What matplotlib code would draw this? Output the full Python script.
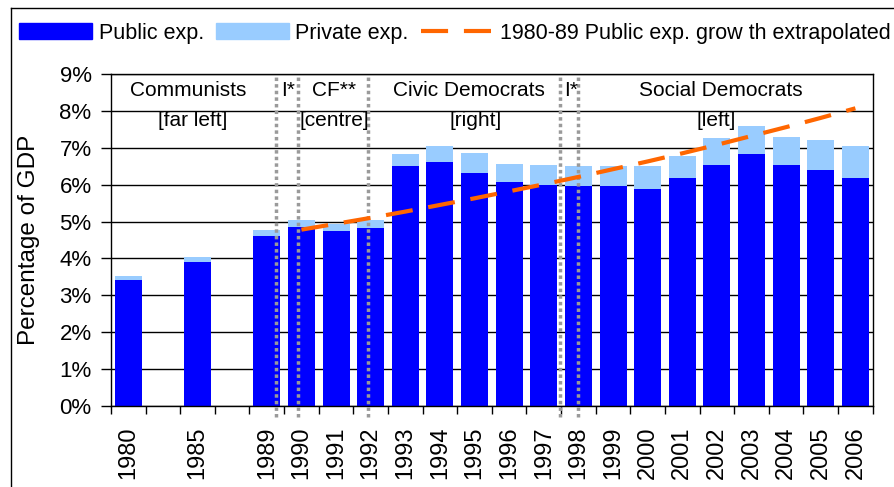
import numpy as np
import matplotlib
matplotlib.use('Agg')
import matplotlib.pyplot as plt
from matplotlib.lines import Line2D

plt.rcParams['font.family'] = ['Liberation Sans', 'DejaVu Sans']

# categories (empty slots keep the gaps between 1980, 1985 and 1989)
years = ['1980', '', '1985', '', '1989', '1990', '1991', '1992', '1993', '1994', '1995',
         '1996', '1997', '1998', '1999', '2000', '2001', '2002', '2003', '2004', '2005', '2006']
nan = np.nan
public = [3.42, nan, 3.91, nan, 4.61, 4.86, 4.75, 4.83, 6.51, 6.62, 6.32,
          6.08, 6.00, 5.97, 5.97, 5.89, 6.19, 6.54, 6.84, 6.54, 6.40, 6.19]
private = [0.11, nan, 0.12, nan, 0.17, 0.19, 0.19, 0.22, 0.33, 0.44, 0.55,
           0.49, 0.54, 0.54, 0.54, 0.62, 0.59, 0.73, 0.76, 0.76, 0.82, 0.87]
extrapolated = [nan, nan, nan, nan, nan, 4.78, 4.94, 5.10, 5.27, 5.45, 5.63,
                5.82, 6.01, 6.21, 6.42, 6.63, 6.85, 7.08, 7.32, 7.56, 7.81, 8.07]

# government changes, in category positions
changes = [4.27, 4.90, 6.93, 12.47, 13.0]
# (label, x, line) for the party names
parties = [('Communists', 1.73, 0), ('[far left]', 1.86, 1),
           ('I*', 4.62, 0),
           ('CF**', 5.94, 0), ('[centre]', 5.95, 1),
           ('Civic Democrats', 9.84, 0), ('[right]', 10.03, 1),
           ('I*', 12.8, 0),
           ('Social Democrats', 17.11, 0), ('[left]', 16.99, 1)]

BLUE = '#0000FF'
LIGHT = '#99CCFF'
ORANGE = '#FF6600'

fig = plt.figure(figsize=(8.94, 4.87), dpi=100)
ax = fig.add_axes([111 / 894, 1 - 406 / 487, (872.7 - 111) / 894, (406 - 74) / 487])

x = np.arange(len(years))
pub = np.array(public)
priv = np.array(private)
ax.bar(x, pub, width=0.78, color=BLUE, zorder=2)
ax.bar(x, priv, bottom=pub, width=0.78, color=LIGHT, zorder=2)
ax.plot(x, extrapolated, color=ORANGE, lw=3, linestyle=(0, (6.5, 3.8)), zorder=4)

for c in changes:
    ax.axvline(c, ymin=-0.032, ymax=0.99, color='#9a9a9a', lw=2.5,
               linestyle=(0, (1, 0.9)), clip_on=False, zorder=3)

for label, px, row in parties:
    yy = 8.41 if row == 0 else 7.58
    ax.text(px, yy, label, ha='center', va='baseline', fontsize=15, zorder=5)

ax.set_xlim(-0.5, len(years) - 0.5)
ax.set_ylim(0, 9)
ax.set_yticks(np.arange(0, 10, 1))
ax.set_yticklabels(['%d%%' % v for v in range(10)])
ax.yaxis.grid(True, color='black', lw=1)
ax.set_axisbelow(True)

ax.set_xticks(np.arange(-0.5, len(years), 1))
ax.set_xticklabels([])
ax.set_xticks(x, minor=True)
ax.set_xticklabels(years, minor=True, rotation=90, fontsize=17)
ax.tick_params(axis='x', which='major', length=6, direction='out', width=1)
ax.tick_params(axis='x', which='minor', length=0, pad=15)
ax.tick_params(axis='y', length=7, width=1, pad=7, labelsize=16)

for s in ax.spines.values():
    s.set_color('black')
    s.set_linewidth(1)

ax.set_ylabel('Percentage of GDP', fontsize=17.5)
ax.yaxis.set_label_coords(-0.093, 0.5)

handles = [plt.Rectangle((0, 0), 1, 1, color=BLUE),
           plt.Rectangle((0, 0), 1, 1, color=LIGHT),
           Line2D([], [], color=ORANGE, lw=3, linestyle=(0, (6.5, 3.8)))]
labels = ['Public exp.', 'Private exp.', '1980-89 Public exp. grow th extrapolated']
fig.legend(handles, labels, loc='center left', bbox_to_anchor=(19 / 894, 1 - 33 / 487),
           ncol=3, frameon=False, fontsize=15.5, handlelength=3.4, handletextpad=0.3,
           columnspacing=0.55, borderpad=0, borderaxespad=0)

# chart border (left and top edges visible)
fig.add_artist(Line2D([11 / 894, 11 / 894], [0, 1 - 8 / 487], color='black', lw=1))
fig.add_artist(Line2D([11 / 894, 1], [1 - 8 / 487, 1 - 8 / 487], color='black', lw=1))

fig.savefig('out.png', dpi=100)
